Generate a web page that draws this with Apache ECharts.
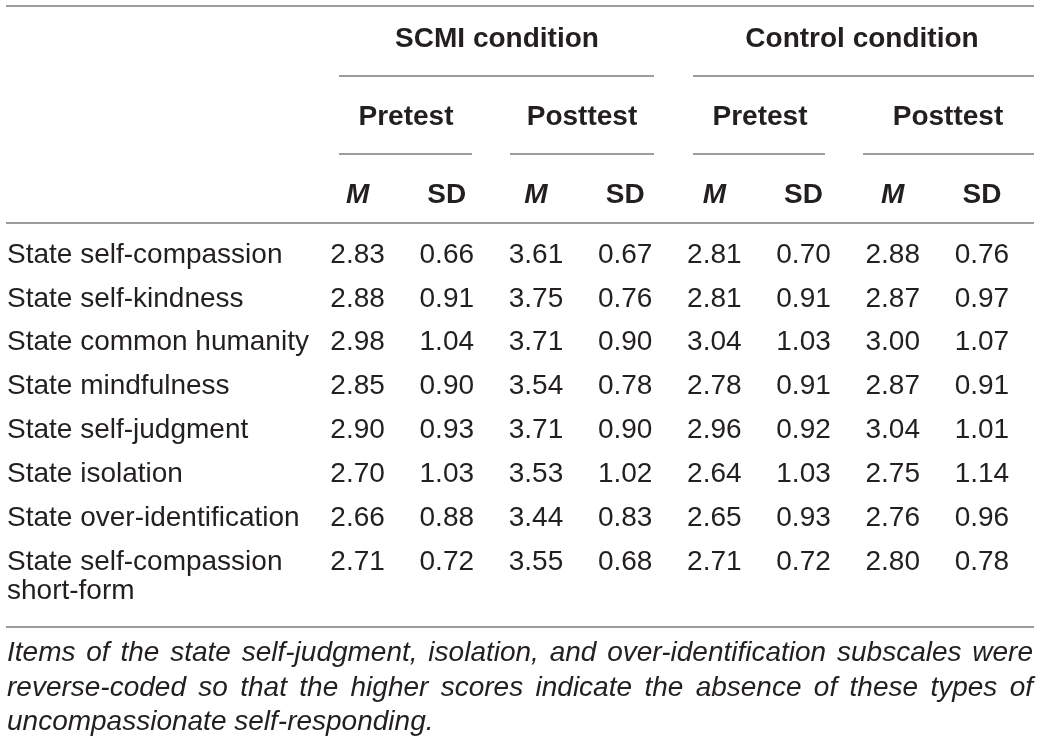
<!DOCTYPE html>
<html>
<head>
<meta charset="utf-8">
<script src="https://cdn.jsdelivr.net/npm/echarts@6/dist/echarts.min.js"></script>
<style>
  html, body { margin: 0; padding: 0; background: #fff; }
  #tbl { width: 1043px; height: 747px; }
</style>
</head>
<body>
<div id="tbl"></div>
<script>
// rows of the table
var rowLabels = [
  'State self-compassion',
  'State self-kindness',
  'State common humanity',
  'State mindfulness',
  'State self-judgment',
  'State isolation',
  'State over-identification',
  'State self-compassion\nshort-form'
];
var colLabels = ['M', 'SD', 'M', 'SD', 'M', 'SD', 'M', 'SD'];

// SCMI condition
var scmiPreM   = [2.83, 2.88, 2.98, 2.85, 2.90, 2.70, 2.66, 2.71];
var scmiPreSD  = [0.66, 0.91, 1.04, 0.90, 0.93, 1.03, 0.88, 0.72];
var scmiPostM  = [3.61, 3.75, 3.71, 3.54, 3.71, 3.53, 3.44, 3.55];
var scmiPostSD = [0.67, 0.76, 0.90, 0.78, 0.90, 1.02, 0.83, 0.68];
// Control condition
var ctrlPreM   = [2.81, 2.81, 3.04, 2.78, 2.96, 2.64, 2.65, 2.71];
var ctrlPreSD  = [0.70, 0.91, 1.03, 0.91, 0.92, 1.03, 0.93, 0.72];
var ctrlPostM  = [2.88, 2.87, 3.00, 2.87, 3.04, 2.75, 2.76, 2.80];
var ctrlPostSD = [0.76, 0.97, 1.07, 0.91, 1.01, 1.14, 0.96, 0.78];

var note = [
  'Items of the state self-judgment, isolation, and over-identification subscales were',
  'reverse-coded so that the higher scores indicate the absence of these types of',
  'uncompassionate self-responding.'
];

var columns = [scmiPreM, scmiPreSD, scmiPostM, scmiPostSD, ctrlPreM, ctrlPreSD, ctrlPostM, ctrlPostSD];
var cells = [];
columns.forEach(function (col, c) {
  col.forEach(function (v, r) { cells.push([c, r, v]); });
});

var FONT = "'Liberation Sans', Arial, Helvetica, sans-serif";
var INK = '#231f20';
var RULE = '#9c9c9c';

var chart = echarts.init(document.getElementById('tbl'));

// thin grey rules
function rule(x1, x2, y) {
  return { type: 'line', silent: true,
    shape: { x1: x1, y1: y, x2: x2, y2: y },
    style: { stroke: RULE, lineWidth: 2 } };
}
function head(txt, x, y) {
  return { type: 'text', silent: true, x: x, y: y,
    style: { text: txt, font: 'bold 28px ' + FONT, fill: INK, align: 'center', verticalAlign: 'middle' } };
}

var graphics = [
  rule(6, 1034, 6),
  rule(339, 654, 76), rule(693, 1034, 76),
  rule(339, 472, 154), rule(510, 654, 154), rule(693, 825, 154), rule(863, 1034, 154),
  rule(6, 1034, 223),
  rule(6, 1034, 627),
  head('SCMI condition', 497, 39), head('Control condition', 862, 39),
  head('Pretest', 406, 117), head('Posttest', 582, 117),
  head('Pretest', 760, 117), head('Posttest', 948, 117)
];

// justified italic footnote
var ctx = document.createElement('canvas').getContext('2d');
var noteFont = 'italic 28px ' + FONT;
ctx.font = noteFont;
var noteY = [653, 688, 722];
note.forEach(function (line, i) {
  var words = line.split(' ');
  var ws = words.map(function (w) { return ctx.measureText(w).width; });
  var total = ws.reduce(function (a, b) { return a + b; }, 0);
  var gap = (i < note.length - 1) ? (1033 - 7 - total) / (words.length - 1) : ctx.measureText(' ').width;
  var x = 7;
  words.forEach(function (w, k) {
    graphics.push({ type: 'text', silent: true, x: x, y: noteY[i],
      style: { text: w, font: noteFont, fill: INK, align: 'left', verticalAlign: 'middle' } });
    x += ws[k] + gap;
  });
});

var option = {
  animation: false,
  tooltip: { show: false },
  grid: { left: 313, top: 233, width: 713.5, height: 351, outerBoundsMode: 'none' },
  xAxis: {
    type: 'category', position: 'top', data: colLabels,
    axisLine: { show: false }, axisTick: { show: false }, splitLine: { show: false },
    axisLabel: {
      interval: 0, margin: 38, verticalAlign: 'middle',
      formatter: function (v) { return v === 'M' ? '{m|M}' : '{s|SD}'; },
      rich: {
        m: { fontFamily: FONT, fontSize: 28, fontWeight: 'bold', fontStyle: 'italic', color: INK },
        s: { fontFamily: FONT, fontSize: 28, fontWeight: 'bold', color: INK }
      }
    }
  },
  yAxis: {
    type: 'category', inverse: true, data: rowLabels,
    axisLine: { show: false }, axisTick: { show: false }, splitLine: { show: false },
    axisLabel: {
      interval: 0, align: 'left', margin: 306, verticalAlign: 'middle',
      fontFamily: FONT, fontSize: 28, lineHeight: 29, color: INK,
      // keep the first line of a wrapped label on the row centre
      formatter: function (v) { return v.indexOf('\n') >= 0 ? '\n' + v : v; }
    }
  },
  series: [{
    type: 'custom',
    data: cells,
    silent: true,
    renderItem: function (params, api) {
      var p = api.coord([api.value(0), api.value(1)]);
      return {
        type: 'text', x: p[0], y: p[1],
        style: {
          text: api.value(2).toFixed(2),
          font: '28px ' + FONT, fill: INK,
          align: 'center', verticalAlign: 'middle'
        }
      };
    }
  }],
  graphic: graphics
};

chart.setOption(option);
</script>
</body>
</html>
